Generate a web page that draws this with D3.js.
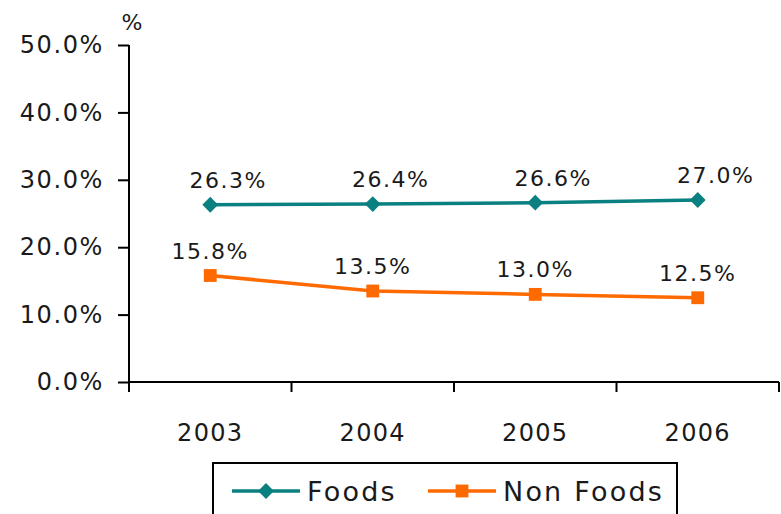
<!DOCTYPE html>
<html>
<head>
<meta charset="utf-8">
<script src="https://cdn.jsdelivr.net/npm/d3@7"></script>
<style>
  html, body { margin: 0; padding: 0; background: #fff; }
  svg { display: block; }
  text { font-family: "DejaVu Sans", sans-serif; fill: #1a1a1a; }
</style>
</head>
<body>
<svg id="chart" width="781" height="514"></svg>
<script>
// Share of sales by year
const years = ["2003", "2004", "2005", "2006"];
const foods = [26.3, 26.4, 26.6, 27.0];
const nonFoods = [15.8, 13.5, 13.0, 12.5];
const yTicks = [0, 10, 20, 30, 40, 50];
const seriesNames = ["Foods", "Non Foods"];
const seriesColors = ["#0a8080", "#ff6a00"];

const svg = d3.select("#chart");
const margin = { left: 129, right: 779, top: 45, bottom: 382 };

const x = d3.scaleBand().domain(years).range([margin.left, margin.right]);
const y = d3.scaleLinear().domain([0, 50]).range([margin.bottom, margin.top]);

// Y axis
const yAxis = svg.append("g")
  .attr("transform", `translate(${margin.left},0)`)
  .call(d3.axisLeft(y).tickValues(yTicks).tickSize(11).tickPadding(14)
    .tickFormat(d => d.toFixed(1) + "%"));
yAxis.select(".domain").attr("stroke", "#000").attr("stroke-width", 2).attr("d", `M0,${margin.top}V${margin.bottom}`);
yAxis.selectAll(".tick line").attr("stroke", "#000").attr("stroke-width", 2);
yAxis.selectAll(".tick text").attr("font-size", 24).attr("font-family", "DejaVu Sans, sans-serif")
  .attr("fill", "#1a1a1a").attr("letter-spacing", 1.6);

// X axis with ticks on the band boundaries
const xAxisG = svg.append("g").attr("transform", `translate(0,${margin.bottom})`);
xAxisG.append("line")
  .attr("x1", margin.left).attr("x2", margin.right)
  .attr("stroke", "#000").attr("stroke-width", 2);
const bounds = years.map(d => x(d)).concat([x(years[years.length - 1]) + x.bandwidth()]);
xAxisG.selectAll("line.tk").data(bounds).join("line")
  .attr("class", "tk")
  .attr("x1", d => d).attr("x2", d => d)
  .attr("y1", 0).attr("y2", 10)
  .attr("stroke", "#000").attr("stroke-width", 2);
xAxisG.selectAll("text").data(years).join("text")
  .attr("x", d => x(d) + x.bandwidth() / 2)
  .attr("y", 59)
  .attr("text-anchor", "middle")
  .attr("font-size", 24)
  .attr("letter-spacing", 1.3)
  .text(d => d);

// Axis unit
svg.append("text").attr("x", 132).attr("y", 30).attr("text-anchor", "middle")
  .attr("font-size", 22).text("%");

const cx = d => x(d) + x.bandwidth() / 2;
const line = d3.line().x(d => cx(d.year)).y(d => y(d.v));

const diamond = d3.symbol().type(d3.symbolSquare).size(125);
const square = d3.symbol().type(d3.symbolSquare).size(165);

const series = [
  { name: seriesNames[0], color: seriesColors[0], values: foods, marker: diamond, rot: 45, labelDx: 18 },
  { name: seriesNames[1], color: seriesColors[1], values: nonFoods, marker: square, rot: 0, labelDx: 0 }
];

series.forEach(s => {
  const pts = years.map((yr, i) => ({ year: yr, v: s.values[i] }));
  svg.append("path").datum(pts)
    .attr("d", line).attr("fill", "none")
    .attr("stroke", s.color).attr("stroke-width", 3.5);
  svg.selectAll(null).data(pts).join("path")
    .attr("transform", d => `translate(${cx(d.year)},${y(d.v)}) rotate(${s.rot})`)
    .attr("d", s.marker)
    .attr("fill", s.color);
  svg.selectAll(null).data(pts).join("text")
    .attr("x", d => cx(d.year) + s.labelDx)
    .attr("y", d => y(d.v) - 17)
    .attr("text-anchor", "middle")
    .attr("font-size", 22)
    .attr("letter-spacing", 1.5)
    .text(d => d.v.toFixed(1) + "%");
});

// Legend
const lg = svg.append("g");
lg.append("rect").attr("x", 213).attr("y", 463).attr("width", 464).attr("height", 60)
  .attr("fill", "#fff").attr("stroke", "#000").attr("stroke-width", 2);
const legendX = [232, 428];
series.forEach((s, i) => {
  const g = lg.append("g").attr("transform", `translate(${legendX[i]},491)`);
  g.append("line").attr("x1", 0).attr("x2", 68).attr("stroke", s.color).attr("stroke-width", 3.5);
  g.append("path").attr("transform", `translate(34,0) rotate(${s.rot})`)
    .attr("d", s.marker).attr("fill", s.color);
  g.append("text").attr("x", 75).attr("y", 10).attr("font-size", 27)
    .attr("letter-spacing", 2.2).text(s.name);
});
</script>
</body>
</html>
